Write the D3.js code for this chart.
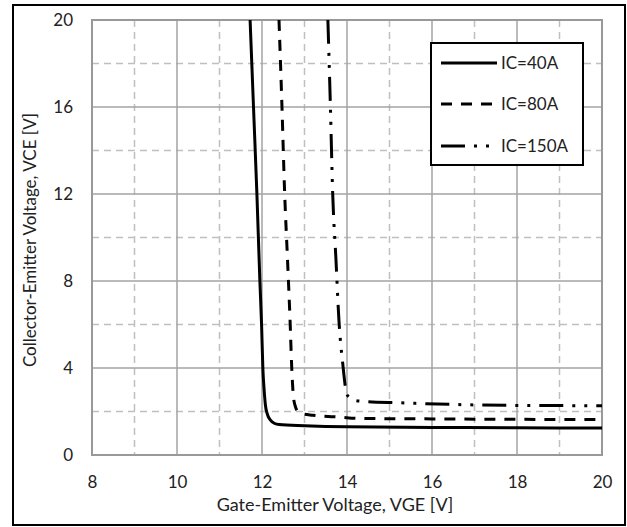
<!DOCTYPE html>
<html>
<head>
<meta charset="utf-8">
<script src="https://cdn.jsdelivr.net/npm/d3@7/dist/d3.min.js"></script>
<style>
  html, body { margin: 0; padding: 0; background: #fff; }
  svg text { font-family: Lato, "Open Sans", sans-serif; fill: #222; }
</style>
</head>
<body>
<svg id="chart" width="627" height="527"></svg>
<script>
// Gate-emitter voltage (V) and collector-emitter voltage (V) per collector current
const vge40  = [11.72, 11.80, 11.88, 11.95, 11.99, 12.02, 12.05, 12.08, 12.13, 12.20, 12.30, 12.40, 13.0, 14.0, 16.0, 18.0, 20.0];
const vce40  = [20, 16, 12, 8, 6, 4, 3, 2.3, 1.85, 1.6, 1.45, 1.40, 1.35, 1.30, 1.27, 1.25, 1.24];

const vge80  = [12.40, 12.47, 12.53, 12.60, 12.66, 12.70, 12.74, 12.79, 12.84, 12.95, 13.20, 13.84, 14.30, 16.0, 18.0, 20.0];
const vce80  = [20, 16, 12.2, 9, 6.2, 4, 2.67, 2.2, 2.0, 1.9, 1.83, 1.74, 1.68, 1.66, 1.64, 1.63];

const vge150 = [13.55, 13.61, 13.66, 13.74, 13.81, 13.90, 13.99, 14.05, 14.11, 14.30, 15.25, 16.58, 17.9, 19.3, 20.0];
const vce150 = [20, 16, 12.2, 9, 6.2, 4.2, 2.84, 2.65, 2.55, 2.48, 2.40, 2.32, 2.28, 2.27, 2.26];

const seriesNames = ["IC=40A", "IC=80A", "IC=150A"];

const xTicks = [8, 10, 12, 14, 16, 18, 20];
const xMinor = [9, 11, 13, 15, 17, 19];
const yTicks = [0, 4, 8, 12, 16, 20];
const yMinor = [2, 6, 10, 14, 18];

const xTitle = "Gate-Emitter Voltage, VGE [V]";
const yTitle = "Collector-Emitter Voltage, VCE [V]";

const svg = d3.select("#chart");
const plot = { left: 92, top: 20, right: 602, bottom: 455 };

const x = d3.scaleLinear().domain([8, 20]).range([plot.left, plot.right]);
const y = d3.scaleLinear().domain([0, 20]).range([plot.bottom, plot.top]);

// outer chart frame
svg.append("rect")
  .attr("x", 13).attr("y", 5).attr("width", 612).attr("height", 520)
  .attr("fill", "#fff").attr("stroke", "#000").attr("stroke-width", 2);

// minor (dashed) grid
const grid = svg.append("g");
grid.selectAll(".xm").data(xMinor).join("line")
  .attr("x1", d => x(d)).attr("x2", d => x(d))
  .attr("y1", plot.top).attr("y2", plot.bottom)
  .attr("stroke", "#bfbfbf").attr("stroke-width", 1.5).attr("stroke-dasharray", "7,5");
grid.selectAll(".ym").data(yMinor).join("line")
  .attr("y1", d => y(d)).attr("y2", d => y(d))
  .attr("x1", plot.left).attr("x2", plot.right)
  .attr("stroke", "#bfbfbf").attr("stroke-width", 1.5).attr("stroke-dasharray", "7,5");

// major (solid) grid
grid.selectAll(".xM").data(xTicks).join("line")
  .attr("x1", d => x(d)).attr("x2", d => x(d))
  .attr("y1", plot.top).attr("y2", plot.bottom)
  .attr("stroke", "#a3a3a3").attr("stroke-width", 1.5);
grid.selectAll(".yM").data(yTicks).join("line")
  .attr("y1", d => y(d)).attr("y2", d => y(d))
  .attr("x1", plot.left).attr("x2", plot.right)
  .attr("stroke", "#a3a3a3").attr("stroke-width", 1.5);

// plot frame
svg.append("rect")
  .attr("x", plot.left).attr("y", plot.top)
  .attr("width", plot.right - plot.left).attr("height", plot.bottom - plot.top)
  .attr("fill", "none").attr("stroke", "#999").attr("stroke-width", 2);

// axes (labels only)
const xAxis = svg.append("g")
  .attr("transform", `translate(0,${plot.bottom + 21})`)
  .call(d3.axisBottom(x).tickValues(xTicks).tickSize(0).tickFormat(d3.format("d")));
xAxis.select(".domain").remove();
xAxis.selectAll("text").attr("font-size", 17).attr("dy", "0.71em").attr("y", 0)
  .style("font-family", "Lato, sans-serif").attr("fill", "#222");

const yAxis = svg.append("g")
  .attr("transform", `translate(${plot.left - 19},0)`)
  .call(d3.axisLeft(y).tickValues(yTicks).tickSize(0).tickFormat(d3.format("d")));
yAxis.select(".domain").remove();
yAxis.selectAll("text").attr("font-size", 17).attr("x", 0)
  .style("font-family", "Lato, sans-serif").attr("fill", "#222");

// axis titles
svg.append("text")
  .attr("x", 335).attr("y", 511)
  .attr("text-anchor", "middle").attr("font-size", 18)
  .text(xTitle);
svg.append("text")
  .attr("transform", "translate(36,240) rotate(-90)")
  .attr("text-anchor", "middle").attr("font-size", 17)
  .text(yTitle);

// curves
svg.append("defs").append("clipPath").attr("id", "plotClip")
  .append("rect")
  .attr("x", plot.left).attr("y", plot.top)
  .attr("width", plot.right - plot.left).attr("height", plot.bottom - plot.top);

const line = d3.line()
  .x(d => x(d[0])).y(d => y(d[1]))
  .curve(d3.curveMonotoneX);

const dashes = [null, "11,9", "24,9,3,9,3,9"];
const series = [
  d3.zip(vge40, vce40),
  d3.zip(vge80, vce80),
  d3.zip(vge150, vce150)
];

const curves = svg.append("g").attr("clip-path", "url(#plotClip)");
curves.selectAll("path").data(series).join("path")
  .attr("d", line)
  .attr("fill", "none")
  .attr("stroke", "#000")
  .attr("stroke-width", 3)
  .attr("stroke-dasharray", (d, i) => dashes[i]);

// legend
const legend = svg.append("g");
legend.append("rect")
  .attr("x", 431).attr("y", 43).attr("width", 152).attr("height", 122)
  .attr("fill", "#fff").attr("stroke", "#000").attr("stroke-width", 2);
const rows = [63, 104, 146];
seriesNames.forEach((name, i) => {
  legend.append("line")
    .attr("x1", 441).attr("x2", 497)
    .attr("y1", rows[i]).attr("y2", rows[i])
    .attr("stroke", "#000").attr("stroke-width", 3)
    .attr("stroke-dasharray", dashes[i]);
  legend.append("text")
    .attr("x", 501).attr("y", rows[i]).attr("dy", "0.36em")
    .attr("font-size", 17)
    .text(name);
});
</script>
</body>
</html>
